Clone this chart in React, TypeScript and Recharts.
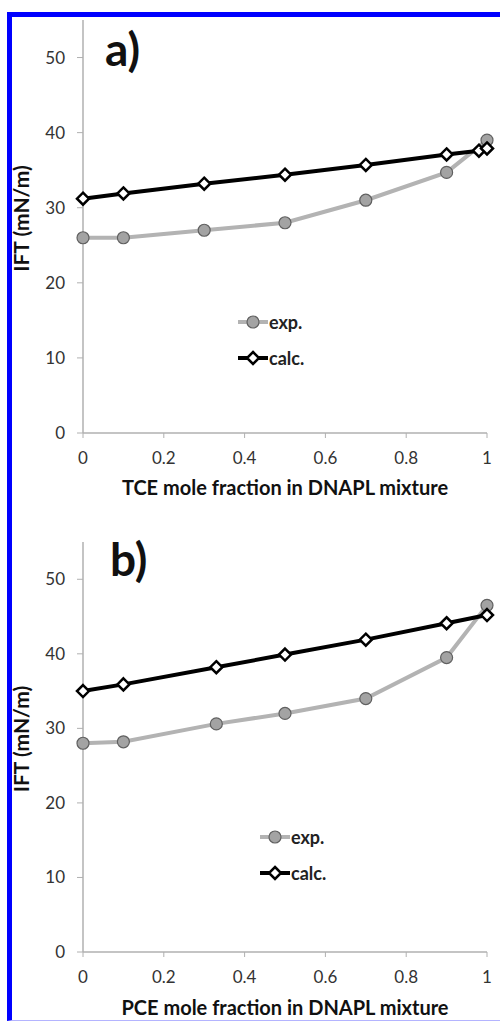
import React from "react";
import { LineChart, Line, XAxis, YAxis, Legend, Label } from "recharts";

// panel a) TCE
const tceExpFraction = [0, 0.1, 0.3, 0.5, 0.7, 0.9, 1];
const tceExp = [26, 26, 27, 28, 31, 34.7, 39];
const tceCalcFraction = [0, 0.1, 0.3, 0.5, 0.7, 0.9, 0.98, 1];
const tceCalc = [31.2, 31.9, 33.2, 34.4, 35.7, 37.1, 37.6, 37.9];

// panel b) PCE
const pceFraction = [0, 0.1, 0.33, 0.5, 0.7, 0.9, 1];
const pceExp = [28, 28.2, 30.6, 32, 34, 39.5, 46.5];
const pceCalc = [35, 35.9, 38.2, 39.9, 41.9, 44.1, 45.2];

const xTicks = [0, 0.2, 0.4, 0.6, 0.8, 1];
const yTicks = [0, 10, 20, 30, 40, 50];
const seriesNames = ["exp.", "calc."];

const toPoints = (xs: number[], ys: number[]) => xs.map((x, i) => ({ x, y: ys[i] }));

const FONT = "Lato, 'Open Sans', sans-serif";
const AXIS_GRAY = "#b0b0b0";
const TICK_COLOR = "#333";
const EXP_LINE = "#b3b3b3";
const EXP_FILL = "#a3a3a3";

const Diamond = (props: any) => {
  const { cx, cy } = props;
  if (cx == null || cy == null) return null;
  const r = 6;
  return (
    <polygon
      points={`${cx},${cy - r} ${cx + r},${cy} ${cx},${cy + r} ${cx - r},${cy}`}
      fill="#fff"
      stroke="#000"
      strokeWidth={2.5}
    />
  );
};

const LegendContent = (props: any) => {
  const items = [...(props.payload || [])].sort(
    (a: any, b: any) => seriesNames.indexOf(a.value) - seriesNames.indexOf(b.value)
  );
  return (
    <div style={{ fontFamily: FONT }}>
      {items.map((entry: any) => {
        const isExp = entry.value === "exp.";
        return (
          <div key={entry.value} style={{ display: "flex", alignItems: "center", height: 36 }}>
            <svg width={30} height={16}>
              <line x1={0} y1={8} x2={30} y2={8} stroke={isExp ? EXP_LINE : "#000"} strokeWidth={4} />
              {isExp ? (
                <circle cx={15} cy={8} r={6} fill={EXP_FILL} stroke="#606060" strokeWidth={1.2} />
              ) : (
                <polygon points="15,2 21,8 15,14 9,8" fill="#fff" stroke="#000" strokeWidth={2.5} />
              )}
            </svg>
            <span style={{ fontWeight: 700, fontSize: 18, color: "#222", marginLeft: 1 }}>{entry.value}</span>
          </div>
        );
      })}
    </div>
  );
};

interface PanelProps {
  top: number;
  height: number;
  marginTop: number;
  marginBottom: number;
  titleOffset: number;
  exp: { x: number; y: number }[];
  calc: { x: number; y: number }[];
  xTitle: string;
  tag: string;
  tagLeft: number;
  tagTop: number;
  legendLeft: number;
  legendTop: number;
}

const Panel = (p: PanelProps) => (
  <div style={{ position: "absolute", left: 0, top: p.top, width: 500, height: p.height }}>
    <LineChart
      width={500}
      height={p.height}
      margin={{ top: p.marginTop, right: 13, bottom: p.marginBottom, left: 0 }}
      style={{ fontFamily: FONT }}
    >
      <XAxis
        dataKey="x"
        type="number"
        domain={[0, 1]}
        ticks={xTicks}
        tickFormatter={(v) => String(v)}
        height={30}
        axisLine={{ stroke: AXIS_GRAY, strokeWidth: 1.5 }}
        tickLine={{ stroke: AXIS_GRAY }}
        tickSize={5}
        tickMargin={14}
        tick={{ fill: TICK_COLOR, fontSize: 17 }}
        allowDuplicatedCategory={false}
      >
        <Label
          value={p.xTitle}
          position="bottom"
          offset={p.titleOffset}
          style={{ fontWeight: 700, fontSize: 20, fill: "#111" }}
        />
      </XAxis>
      <YAxis
        dataKey="y"
        type="number"
        domain={[0, 55]}
        ticks={yTicks}
        width={83}
        axisLine={{ stroke: AXIS_GRAY, strokeWidth: 1.5 }}
        tickLine={{ stroke: AXIS_GRAY }}
        tickSize={6}
        tickMargin={12}
        tick={{ fill: TICK_COLOR, fontSize: 17 }}
      >
        <Label
          value="IFT (mN/m)"
          angle={-90}
          position="insideLeft"
          offset={22}
          dy={-8}
          style={{ fontWeight: 700, fontSize: 21, fill: "#111", textAnchor: "middle" }}
        />
      </YAxis>
      <Legend
        layout="vertical"
        align="center"
        verticalAlign="middle"
        content={<LegendContent />}
        wrapperStyle={{ left: p.legendLeft, top: p.legendTop, width: "auto" }}
      />
      <Line
        name="exp."
        data={p.exp}
        dataKey="y"
        stroke={EXP_LINE}
        strokeWidth={4}
        dot={{ r: 6, fill: EXP_FILL, stroke: "#606060", strokeWidth: 1.2 }}
        isAnimationActive={false}
      />
      <Line
        name="calc."
        data={p.calc}
        dataKey="y"
        stroke="#000"
        strokeWidth={4}
        dot={<Diamond />}
        isAnimationActive={false}
      />
    </LineChart>
    <div
      style={{
        position: "absolute",
        left: p.tagLeft,
        top: p.tagTop,
        fontFamily: FONT,
        fontWeight: 700,
        fontSize: 46,
        lineHeight: 1,
        color: "#111",
      }}
    >
      {p.tag}
    </div>
  </div>
);

export default function App() {
  return (
    <div
      style={{
        position: "absolute",
        left: 0,
        top: 0,
        width: 500,
        height: 1021,
        overflow: "hidden",
        background: "#fff",
      }}
    >
      <div
        style={{
          position: "absolute",
          left: 7,
          top: 12,
          width: 600,
          height: 1003,
          borderLeft: "5px solid #0000ff",
          borderTop: "5px solid #0000ff",
          borderBottom: "1px solid #b4b4ff",
        }}
      />
      <Panel
        top={0}
        height={500}
        marginTop={20}
        marginBottom={37}
        titleOffset={18}
        exp={toPoints(tceExpFraction, tceExp)}
        calc={toPoints(tceCalcFraction, tceCalc)}
        xTitle="TCE mole fraction in DNAPL mixture"
        tag="a)"
        tagLeft={105}
        tagTop={26}
        legendLeft={238}
        legendTop={304}
      />
      <Panel
        top={500}
        height={521}
        marginTop={42}
        marginBottom={39}
        titleOffset={19}
        exp={toPoints(pceFraction, pceExp)}
        calc={toPoints(pceFraction, pceCalc)}
        xTitle="PCE mole fraction in DNAPL mixture"
        tag="b)"
        tagLeft={110}
        tagTop={36}
        legendLeft={260}
        legendTop={319}
      />
    </div>
  );
}
